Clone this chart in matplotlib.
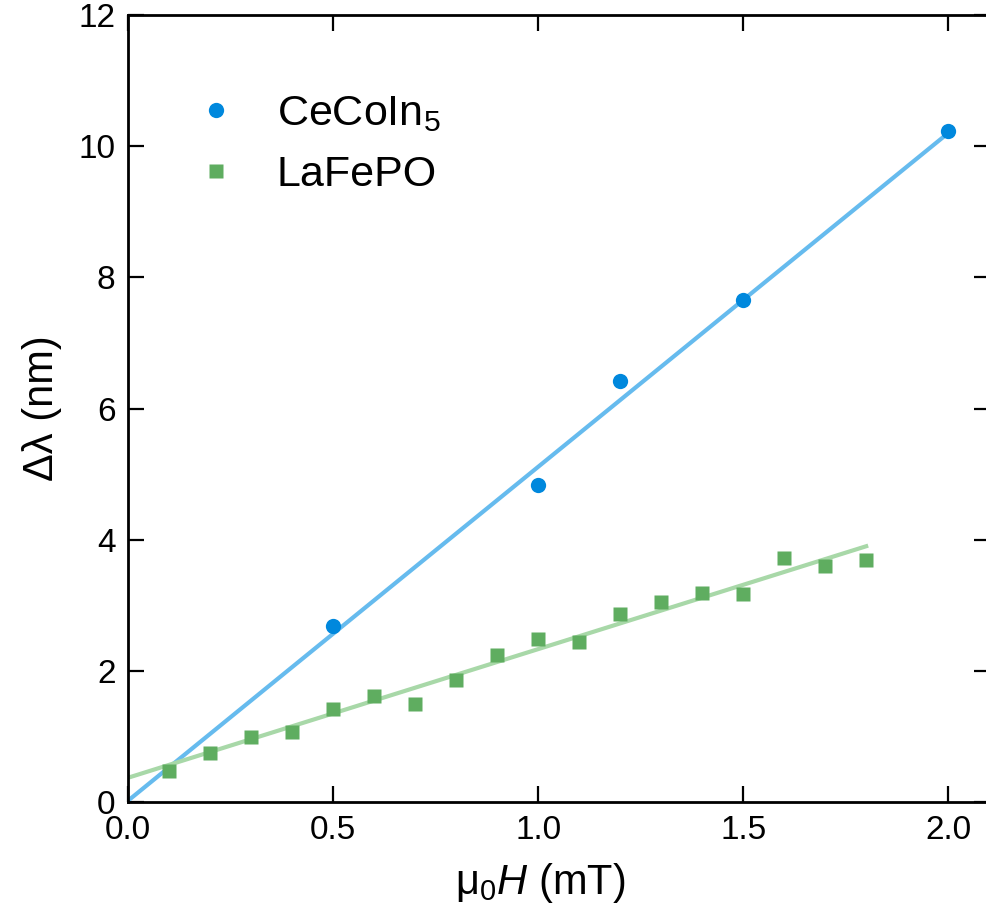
import numpy as np
import matplotlib
matplotlib.use('Agg')
from matplotlib import pyplot as plt

# CeCoIn5 data and linear fit
ce_x = [0.5, 1.0, 1.2, 1.5, 2.0]
ce_y = [2.68, 4.83, 6.42, 7.65, 10.23]
ce_fit_x = [0.0, 2.0]
ce_fit_y = [0.02, 10.2]

# LaFePO data and linear fit
la_x = [0.1, 0.2, 0.3, 0.4, 0.5, 0.6, 0.7, 0.8, 0.9, 1.0,
        1.1, 1.2, 1.3, 1.4, 1.5, 1.6, 1.7, 1.8]
la_y = [0.48, 0.74, 0.99, 1.07, 1.42, 1.62, 1.49, 1.86, 2.24, 2.48,
        2.44, 2.87, 3.05, 3.19, 3.17, 3.72, 3.60, 3.69]
la_fit_x = [0.0, 1.8]
la_fit_y = [0.37, 3.90]

x_ticks = [0.0, 0.5, 1.0, 1.5, 2.0]
y_ticks = [0, 2, 4, 6, 8, 10, 12]

plt.rcParams['font.family'] = ['Liberation Sans', 'DejaVu Sans']
plt.rcParams['mathtext.fontset'] = 'custom'
plt.rcParams['mathtext.rm'] = 'Liberation Sans'
plt.rcParams['mathtext.it'] = 'Liberation Sans:italic'


def main():
    fig = plt.figure(figsize=(9.86, 9.24), dpi=100)
    # right spine sits just past the picture edge, as in the original
    ax = fig.add_axes([0.1298, 0.132, 0.8743, 0.8518])

    ax.plot(ce_fit_x, ce_fit_y, color='#66bbee', lw=3, zorder=2)
    ax.plot(la_fit_x, la_fit_y, color='#a8d8a8', lw=3, zorder=2)
    ax.plot(ce_x, ce_y, 'o', color='#0088dd', ms=11, mec='none', zorder=3,
            label='CeCoIn$_5$')
    ax.plot(la_x, la_y, 's', color='#5fad60', ms=10, mec='none', zorder=3,
            label='LaFePO')

    ax.set_xlim(0, 2.102)
    ax.set_ylim(0, 12)
    ax.set_xticks(x_ticks)
    ax.set_xticklabels([f'{t:.1f}' for t in x_ticks])
    ax.set_yticks(y_ticks)
    ax.tick_params(direction='in', length=11.5, width=1.6, labelsize=24,
                   top=True, right=True, pad=9)
    for s in ax.spines.values():
        s.set_linewidth(2)

    ax.set_xlabel('μ$_0$$\\mathit{H}$ (mT)', fontsize=30, labelpad=10)
    ax.xaxis.set_label_coords(0.478, -0.075)
    ax.set_ylabel('Δλ (nm)', fontsize=30, labelpad=12)

    ax.legend(loc='upper left', bbox_to_anchor=(0.0777, 0.90), frameon=False,
              fontsize=31, handletextpad=0.9, labelspacing=0.5,
              handlelength=1.0, borderpad=0, borderaxespad=0)

    fig.savefig('out.png', dpi=100)
    plt.close(fig)


if __name__ == '__main__':
    main()
